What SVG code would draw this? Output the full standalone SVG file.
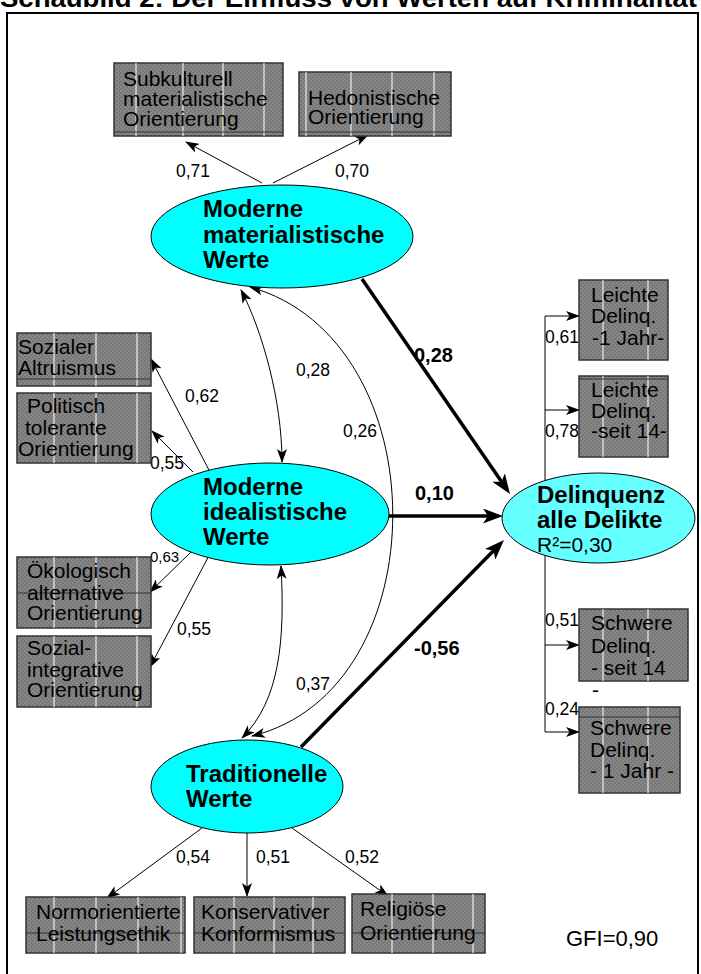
<svg xmlns="http://www.w3.org/2000/svg" width="701" height="974" viewBox="0 0 701 974">
<defs>
<pattern id="chk" width="4" height="4" patternUnits="userSpaceOnUse">
<rect width="4" height="4" fill="#878787"/>
<rect width="2" height="2" fill="#787878"/>
<rect x="2" y="2" width="2" height="2" fill="#787878"/>
</pattern>
<marker id="ah" markerUnits="userSpaceOnUse" markerWidth="14" markerHeight="10" viewBox="0 0 14 10" refX="13" refY="5" orient="auto-start-reverse">
<path d="M0,0 L14,5 L0,10 L3.5,5 z" fill="#000"/>
</marker>
<marker id="ahb" markerUnits="userSpaceOnUse" markerWidth="20" markerHeight="15" viewBox="0 0 20 15" refX="14" refY="7.5" orient="auto">
<path d="M0,0 L20,7.5 L0,15 L5,7.5 z" fill="#000"/>
</marker>
</defs>
<style>
.box{fill:url(#chk);stroke:#333;stroke-width:1.5}
.wl{stroke:#fff;stroke-width:1}
.dl{stroke:#333;stroke-width:1}
.bt{font-family:"Liberation Sans",Arial,sans-serif;font-size:21px;fill:#000}
.et{font-family:"Liberation Sans",Arial,sans-serif;font-size:24px;font-weight:bold;fill:#000}
.lb{font-family:"Liberation Sans",Arial,sans-serif;font-size:17.5px;fill:#000}
.lbs{font-family:"Liberation Sans",Arial,sans-serif;font-size:15px;fill:#000}
.lbb{font-family:"Liberation Sans",Arial,sans-serif;font-size:20px;font-weight:bold;fill:#000}
.ell{fill:#00ffff;stroke:#000;stroke-width:1}
.thin{fill:none;stroke:#000;stroke-width:1;marker-end:url(#ah)}
.dbl{fill:none;stroke:#000;stroke-width:1;marker-start:url(#ah);marker-end:url(#ah)}
.thick{fill:none;stroke:#000;stroke-width:3.5;marker-end:url(#ahb)}
</style>
<rect width="701" height="974" fill="#fff"/>
<text x="0" y="7" textLength="697" lengthAdjust="spacingAndGlyphs" style="font-family:'Liberation Sans',Arial,sans-serif;font-size:25px;font-weight:bold">Schaubild 2: Der Einfluss von Werten auf Kriminalität</text>
<rect x="7" y="13" width="691" height="980" fill="none" stroke="#000" stroke-width="2"/>

<g id="connectors">
<path class="thin" d="M262,183 L186,142"/>
<path class="thin" d="M273,183 L368,135"/>
<path class="thin" d="M210,472 L151,359"/>
<path class="thin" d="M193,472 L152,431"/>
<path class="thin" d="M193,550 L150,592"/>
<path class="thin" d="M212,550 L150,667"/>
<path class="thin" d="M202,828 L107,898"/>
<path class="thin" d="M247,833 L247,896"/>
<path class="thin" d="M292,828 L388,896"/>
<path d="M545,316 L545,732" fill="none" stroke="#000" stroke-width="1"/>
<path class="thin" d="M545,316 L579,316"/>
<path class="thin" d="M545,410 L579,410"/>
<path class="thin" d="M545,645 L579,645"/>
<path class="thin" d="M545,732 L579,732"/>
<path class="dbl" d="M241,290 C262,330 282,400 282,462"/>
<path class="dbl" d="M250,287 C440,340 440,690 252,736"/>
<path class="dbl" d="M281,566 C285,640 280,700 242,738"/>
<path class="thick" d="M362,279 L506.6,489.1"/>
<path class="thick" d="M389,516 L497,516"/>
<path class="thick" d="M301,747 L499.8,544.3"/>
<text class="lb" x="176" y="177">0,71</text>
<text class="lb" x="335" y="177">0,70</text>
<text class="lb" x="185" y="402">0,62</text>
<text class="lb" x="150" y="469">0,55</text>
<text class="lb" x="296" y="376">0,28</text>
<text class="lb" x="343" y="437">0,26</text>
<text class="lbs" x="150" y="562">0,63</text>
<text class="lb" x="177" y="635">0,55</text>
<text class="lb" x="296" y="690">0,37</text>
<text class="lb" x="176" y="863">0,54</text>
<text class="lb" x="256" y="863">0,51</text>
<text class="lb" x="345" y="863">0,52</text>
<text class="lb" x="545" y="343">0,61</text>
<text class="lb" x="545" y="437">0,78</text>
<text class="lb" x="545" y="626">0,51</text>
<text class="lb" x="545" y="715">0,24</text>
<text class="lbb" x="414" y="362">0,28</text>
<text class="lbb" x="415" y="500">0,10</text>
<text class="lbb" x="414" y="655">-0,56</text>
</g>

<g id="mat">
<ellipse class="ell" cx="282" cy="236.5" rx="131" ry="51.5"/>
<text class="et" x="203" y="217">Moderne</text>
<text class="et" x="203" y="243">materialistische</text>
<text class="et" x="203" y="268">Werte</text>
</g>
<g id="ideal">
<ellipse class="ell" cx="270" cy="514" rx="119" ry="51"/>
<text class="et" x="203" y="495">Moderne</text>
<text class="et" x="203" y="520">idealistische</text>
<text class="et" x="203" y="545">Werte</text>
</g>
<g id="trad">
<ellipse class="ell" cx="247" cy="786.5" rx="96" ry="46.5"/>
<text class="et" x="186" y="782">Traditionelle</text>
<text class="et" x="186" y="807">Werte</text>
</g>
<g id="delinq">
<ellipse cx="598.5" cy="518" rx="96.5" ry="45" fill="#66ffff" stroke="#000" stroke-width="1"/>
<text class="et" x="537" y="503">Delinquenz</text>
<text class="et" x="537" y="528">alle Delikte</text>
<text class="bt" x="537" y="552">R²=0,30</text>
</g>

<g id="subkult">
<rect class="box" x="114" y="63" width="169" height="73"/>
<path class="wl" d="M136,63V136M183,63V136M223,63V136M264,63V136"/>
<path class="dl" d="M114,132H283"/>
<text class="bt" x="123" y="86">Subkulturell</text>
<text class="bt" x="123" y="106">materialistische</text>
<text class="bt" x="123" y="126">Orientierung</text>
</g>
<g id="hedon">
<rect class="box" x="299" y="72" width="152" height="64"/>
<path class="wl" d="M306,72V136M351,72V136M392,72V136M434,72V136"/>
<path class="dl" d="M299,132H451"/>
<text class="bt" x="308" y="105">Hedonistische</text>
<text class="bt" x="308" y="124">Orientierung</text>
</g>
<g id="sozalt">
<rect class="box" x="17" y="333" width="134" height="53"/>
<path class="wl" d="M54,333V386M96,333V386M137,333V386"/>
<path class="dl" d="M17,379H151"/>
<text class="bt" x="18" y="354">Sozialer</text>
<text class="bt" x="18" y="375">Altruismus</text>
</g>
<g id="polit">
<rect class="box" x="17" y="393" width="134" height="70"/>
<path class="wl" d="M54,393V463M96,393V463M137,393V463"/>
<text class="bt" x="27" y="413">Politisch</text>
<text class="bt" x="25" y="435">tolerante</text>
<text class="bt" x="18" y="456">Orientierung</text>
</g>
<g id="oeko">
<rect class="box" x="17" y="557" width="134" height="71"/>
<path class="wl" d="M54,557V628M96,557V628M137,557V628"/>
<path class="dl" d="M17,593H151"/>
<text class="bt" x="27" y="578">Ökologisch</text>
<text class="bt" x="27" y="600">alternative</text>
<text class="bt" x="27" y="620">Orientierung</text>
</g>
<g id="sozint">
<rect class="box" x="17" y="636" width="134" height="71"/>
<path class="wl" d="M54,636V707M96,636V707M137,636V707"/>
<text class="bt" x="27" y="655">Sozial-</text>
<text class="bt" x="27" y="677">integrative</text>
<text class="bt" x="27" y="697">Orientierung</text>
</g>
<g id="leicht1">
<rect class="box" x="579" y="280" width="89" height="80"/>
<path class="wl" d="M603,280V360M648,280V360"/>
<text class="bt" x="591" y="302">Leichte</text>
<text class="bt" x="591" y="323">Delinq.</text>
<text class="bt" x="592" y="345">-1 Jahr-</text>
</g>
<g id="leicht14">
<rect class="box" x="579" y="376" width="89" height="81"/>
<path class="wl" d="M603,376V457M648,376V457"/>
<path class="dl" d="M579,379H668"/>
<text class="bt" x="591" y="397">Leichte</text>
<text class="bt" x="591" y="418">Delinq.</text>
<text class="bt" x="591" y="438">-seit 14-</text>
</g>
<g id="schwer14">
<rect class="box" x="579" y="609" width="109" height="72"/>
<path class="wl" d="M603,609V681M648,609V681"/>
<text class="bt" x="591" y="630">Schwere</text>
<text class="bt" x="591" y="653">Delinq.</text>
<text class="bt" x="591" y="675">- seit 14</text>
<text class="bt" x="592" y="697">-</text>
</g>
<g id="schwer1">
<rect class="box" x="579" y="707" width="101" height="86"/>
<path class="wl" d="M603,707V793M648,707V793"/>
<path class="dl" d="M579,717H680"/>
<text class="bt" x="590" y="735">Schwere</text>
<text class="bt" x="590" y="757">Delinq.</text>
<text class="bt" x="590" y="778">- 1 Jahr -</text>
</g>
<g id="norm">
<rect class="box" x="26" y="897" width="159" height="56"/>
<path class="wl" d="M54,897V953M96,897V953M138,897V953M181,897V953"/>
<path class="dl" d="M26,933H185"/>
<text class="bt" x="36" y="919">Normorientierte</text>
<text class="bt" x="36" y="941">Leistungsethik</text>
</g>
<g id="konserv">
<rect class="box" x="194" y="897" width="151" height="56"/>
<path class="wl" d="M234,897V953M274,897V953M313,897V953"/>
<path class="dl" d="M194,933H345"/>
<text class="bt" x="201" y="919">Konservativer</text>
<text class="bt" x="201" y="941">Konformismus</text>
</g>
<g id="relig">
<rect class="box" x="352" y="894" width="133" height="59"/>
<path class="wl" d="M392,894V953M433,894V953M473,894V953"/>
<path class="dl" d="M352,933H485"/>
<text class="bt" x="360" y="916">Religiöse</text>
<text class="bt" x="360" y="940">Orientierung</text>
</g>
<text class="bt" x="566" y="946" style="font-size:22px">GFI=0,90</text>
</svg>
